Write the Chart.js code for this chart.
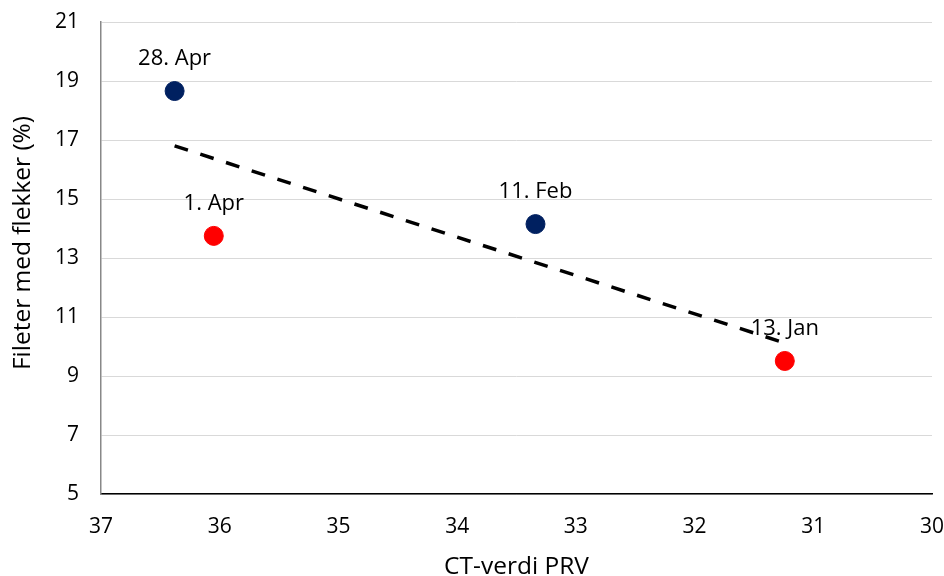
<!DOCTYPE html>
<html>
<head>
<meta charset="utf-8">
<script src="https://cdn.jsdelivr.net/npm/chart.js@4"></script>
<style>
html,body{margin:0;padding:0;background:#fff;}
#wrap{width:944px;height:576px;}
</style>
</head>
<body>
<div id="wrap"><canvas id="c" width="944" height="576"></canvas></div>
<script>
const pointLabels = ["28. Apr", "1. Apr", "11. Feb", "13. Jan"];
const ctValues = [36.38, 36.05, 33.34, 31.24];
const fileterValues = [18.66, 13.75, 14.15, 9.51];
const pointColors = ["#002060", "#FF0000", "#002060", "#FF0000"];
const trendX = [36.38, 31.24];
const trendY = [16.8, 10.12];
const xTicks = [37, 36, 35, 34, 33, 32, 31, 30];
const yTicks = [5, 7, 9, 11, 13, 15, 17, 19, 21];
const xTitle = "CT-verdi PRV";
const yTitle = "Fileter med flekker (%)";

const FONT = "'Open Sans', sans-serif";

const textPlugin = {
  id: 'textPlugin',
  afterDatasetsDraw(chart) {
    const meta = chart.getDatasetMeta(0);
    const ctx = chart.ctx;
    const area = chart.chartArea;
    ctx.save();
    ctx.font = "22px " + FONT;
    ctx.fillStyle = "#000";
    ctx.textAlign = "center";
    ctx.textBaseline = "middle";
    meta.data.forEach((el, i) => {
      ctx.fillText(pointLabels[i], el.x, el.y - 32);
    });
    // axis titles
    ctx.font = "24.5px " + FONT;
    ctx.textBaseline = "alphabetic";
    ctx.fillText(xTitle, (area.left + area.right) / 2, 574);
    ctx.translate(30, 243);
    ctx.rotate(-Math.PI / 2);
    ctx.fillText(yTitle, 0, 0);
    ctx.restore();
  }
};

new Chart(document.getElementById('c'), {
  type: 'scatter',
  data: {
    datasets: [
      {
        data: ctValues.map((x, i) => ({x: x, y: fileterValues[i]})),
        backgroundColor: pointColors,
        borderColor: pointColors,
        pointRadius: 9.5,
        pointHoverRadius: 9.5,
        order: 1
      },
      {
        type: 'line',
        data: trendX.map((x, i) => ({x: x, y: trendY[i]})),
        borderColor: "#000",
        borderWidth: 3.5,
        borderDash: [14, 13],
        pointRadius: 0,
        fill: false,
        order: 2
      }
    ]
  },
  options: {
    responsive: false,
    animation: false,
    devicePixelRatio: 1,
    plugins: { legend: {display: false}, tooltip: {enabled: false} },
    layout: { padding: { left: 0, right: 12, top: 22, bottom: 0 } },
    scales: {
      x: {
        type: 'linear',
        reverse: true,
        min: 30, max: 37,
        afterBuildTicks(scale) { scale.ticks = xTicks.map(v => ({value: v})); },
        afterFit(scale) { scale.height = 82; scale.paddingLeft = 0; scale.paddingRight = 0; },
        grid: { display: false },
        border: { display: true, color: "#000", width: 1.5 },
        ticks: { color: "#000", font: {family: FONT, size: 21}, padding: 12, maxRotation: 0 }
      },
      y: {
        type: 'linear',
        min: 5, max: 21,
        afterBuildTicks(scale) { scale.ticks = yTicks.map(v => ({value: v})); },
        afterFit(scale) { scale.width = 101; scale.paddingTop = 0; scale.paddingBottom = 0; },
        grid: { color: "#d9d9d9", lineWidth: 1, drawTicks: false },
        border: { display: true, color: "#888", width: 1.5 },
        ticks: { color: "#000", font: {family: FONT, size: 21}, padding: 22 }
      }
    }
  },
  plugins: [textPlugin]
});
</script>
</body>
</html>
